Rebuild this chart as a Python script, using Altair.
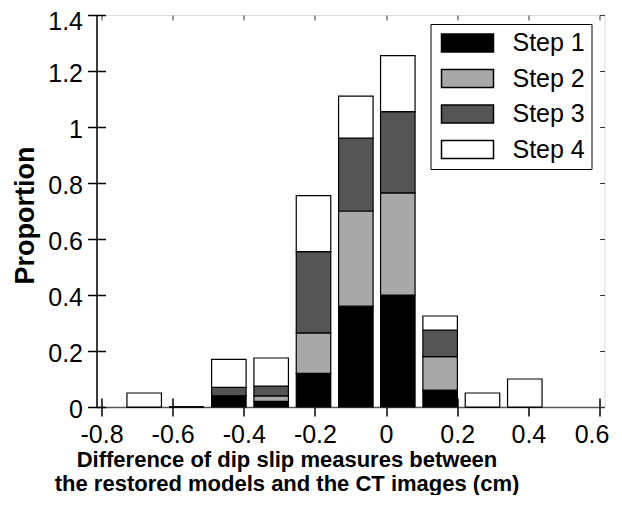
import altair as alt
import pandas as pd

# Bin centers (cm) and proportions per step
centers = [-0.68, -0.561, -0.442, -0.323, -0.204, -0.085, 0.033, 0.152, 0.271, 0.39]
step1 = [0.0, 0.0, 0.04, 0.02, 0.12, 0.36, 0.40, 0.06, 0.0, 0.0]
step2 = [0.0, 0.0, 0.0, 0.02, 0.145, 0.34, 0.365, 0.12, 0.0, 0.0]
step3 = [0.0, 0.0, 0.03, 0.035, 0.29, 0.26, 0.29, 0.095, 0.0, 0.0]
step4 = [0.05, 0.0, 0.10, 0.10, 0.20, 0.15, 0.20, 0.05, 0.05, 0.10]
steps = ["Step 1", "Step 2", "Step 3", "Step 4"]
x_ticks = [-0.8, -0.6, -0.4, -0.2, 0, 0.2, 0.4, 0.6]
y_ticks = [0, 0.2, 0.4, 0.6, 0.8, 1.0, 1.2, 1.4]

rows = []
for si, (name, vals) in enumerate(zip(steps, [step1, step2, step3, step4])):
    for c, v in zip(centers, vals):
        rows.append({"center": c, "value": v, "step": name, "order": si})
df = pd.DataFrame(rows)

FONT = "Liberation Sans"
HALF = 0.0485
LBL = "'' + round(datum.value*10)/10"

xscale = alt.Scale(domain=[-0.8, 0.6], nice=False, zero=False)
yscale = alt.Scale(domain=[0, 1.4], nice=False)

base = alt.Chart(df).transform_calculate(
    x1="datum.center - %f" % HALF, x2="datum.center + %f" % HALF
)

bars = base.mark_bar(stroke="black", strokeWidth=1.2, opacity=1).encode(
    x=alt.X("x1:Q", scale=xscale,
            axis=alt.Axis(orient="bottom", values=x_ticks, labelExpr=LBL,
                          tickSize=9, domain=True, domainColor="#555",
                          domainWidth=1.5, grid=False,
                          labelFontSize=25, labelFont=FONT, labelColor="black",
                          labelPadding=6, tickColor="black", tickWidth=1.5,
                          labelOffset={"condition": {"test": "datum.value > 0.59",
                                                     "value": -8},
                                       "value": 0},
                          title=["Difference of dip slip measures between",
                                 "the restored models and the CT images (cm)"],
                          titleFont=FONT, titleFontSize=22, titleFontWeight="bold",
                          titleColor="black", titleX=190, titleY=42,
                          titleAlign="center", titleBaseline="top",
                          titleLineHeight=24)),
    x2="x2:Q",
    y=alt.Y("sum(value):Q", scale=yscale, stack="zero",
            axis=alt.Axis(orient="left", values=y_ticks, labelExpr=LBL,
                          tickSize=9, domain=True, domainColor="black",
                          domainWidth=1.5, grid=False,
                          labelFontSize=25, labelFont=FONT, labelColor="black",
                          labelPadding=5, tickColor="black", tickWidth=1.5,
                          labelOffset={"condition": {"test": "datum.value > 1.39",
                                                     "value": 6},
                                       "value": 2},
                          title="Proportion", titleFont=FONT, titleFontSize=27,
                          titleFontWeight="bold", titleColor="black",
                          titleAngle=270, titleX=-84, titleY=200,
                          titleAlign="center", titleBaseline="top")),
    color=alt.Color("step:N",
                    scale=alt.Scale(domain=steps,
                                    range=["#000000", "#a8a8a8", "#555555", "#ffffff"]),
                    legend=alt.Legend(title=None, orient="none", legendX=334, legendY=9,
                                      strokeColor="black", padding=6,
                                      symbolType="M-1,-0.35H1V0.35H-1Z",
                                      symbolSize=2704, symbolStrokeColor="black",
                                      symbolStrokeWidth=1.5, symbolOpacity=1,
                                      symbolOffset=4, clipHeight=26,
                                      labelFont=FONT, labelFontSize=25,
                                      labelColor="black", labelOffset=18,
                                      rowPadding=9.5)),
    order=alt.Order("order:Q", sort="ascending"),
)

inner_lb = alt.Chart(df).mark_point(opacity=0).encode(
    x=alt.X("center:Q", scale=xscale,
            axis=alt.Axis(orient="bottom", offset=-9, values=x_ticks, tickSize=9,
                          labels=False, domain=False, grid=False, title=None,
                          tickColor="black", tickWidth=1.5)),
    y=alt.Y("value:Q", scale=yscale,
            axis=alt.Axis(orient="left", offset=-9, values=y_ticks, tickSize=9,
                          labels=False, domain=False, grid=False, title=None,
                          tickColor="black", tickWidth=1.5)),
)

inner_tr = alt.Chart(df).mark_point(opacity=0).encode(
    x=alt.X("center:Q", scale=xscale,
            axis=alt.Axis(orient="top", offset=-5, values=x_ticks, tickSize=5,
                          labels=False, domain=False, grid=False, title=None,
                          tickColor="#333", tickWidth=1)),
    y=alt.Y("value:Q", scale=yscale,
            axis=alt.Axis(orient="right", offset=-5, values=y_ticks, tickSize=5,
                          labels=False, domain=False, grid=False, title=None,
                          tickColor="#333", tickWidth=1)),
)

chart = alt.layer(bars, inner_lb, inner_tr).resolve_axis(
    x="independent", y="independent"
).properties(
    width=508, height=392,
    autosize=alt.AutoSizeParams(type="none"),
    padding={"left": 88.5, "top": 7, "right": 9.5, "bottom": 88},
).configure_view(stroke="#222", strokeWidth=1).configure(background="white")

chart.save("out.html", embed_options={"renderer": "svg", "actions": False})
